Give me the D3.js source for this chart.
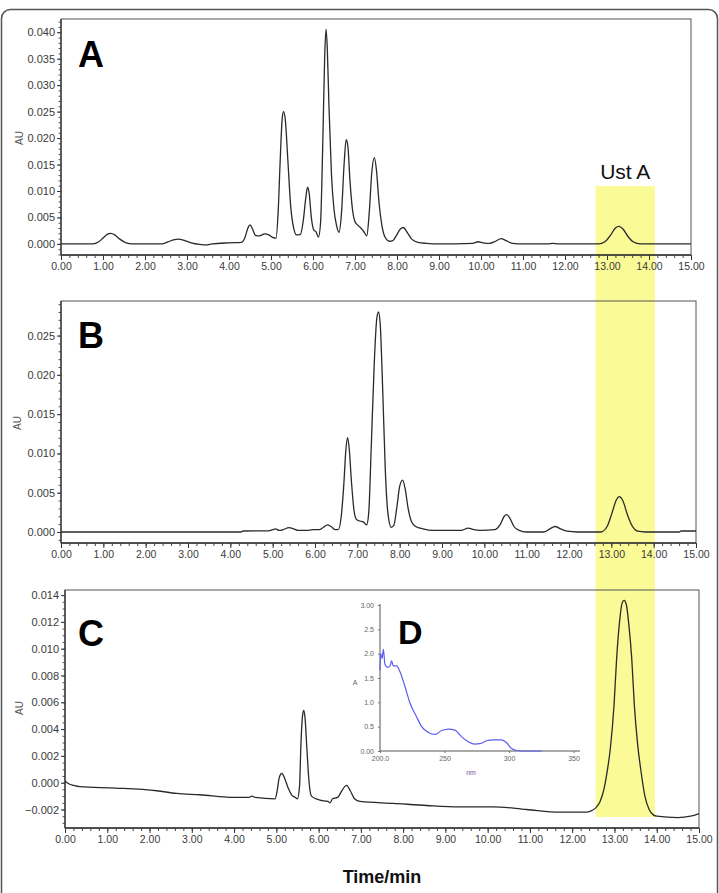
<!DOCTYPE html>
<html><head><meta charset="utf-8">
<script src="https://cdn.jsdelivr.net/npm/d3@7"></script>
<style>
body{margin:0;background:#fff}
svg{display:block}
text{font-family:Arial,"Liberation Sans",sans-serif}
</style>
</head><body>
<svg id="chart" width="719" height="893"></svg>
<script>
// ---------------- DATA ----------------
const xTicks = [0,1,2,3,4,5,6,7,8,9,10,11,12,13,14,15];
const yTicksA = [0,0.005,0.010,0.015,0.020,0.025,0.030,0.035,0.040];
const yTicksB = [0,0.005,0.010,0.015,0.020,0.025];
const yTicksC = [-0.002,0,0.002,0.004,0.006,0.008,0.010,0.012,0.014];
const panelLetters = ["A","B","C","D"];
const bandRange = [12.73, 14.14];   // min, highlighted Ust A window
const bandLabel = "Ust A";
const xTitle = "Time/min";
const yTitle = "AU";

// chromatogram A: [time(min), AU]
const chromA = [
 [0,0],[0.75,0],[0.9,0.0004],[1.0,0.0011],[1.1,0.0018],[1.18,0.0020],[1.28,0.0017],[1.4,0.0009],[1.55,0.0002],[1.7,0],
 [2.4,0],[2.55,0.0004],[2.7,0.0008],[2.8,0.0009],[2.95,0.0006],[3.1,0.0002],[3.3,-0.0001],[3.45,-0.0002],[3.6,0],
 [4.0,0.0002],[4.3,0.0003],[4.38,0.0012],[4.45,0.0030],[4.5,0.0036],[4.56,0.0028],[4.63,0.0016],[4.72,0.0015],
 [4.85,0.0019],[4.95,0.0017],[5.05,0.0012],[5.12,0.0011],[5.17,0.0060],[5.22,0.0160],[5.27,0.0240],[5.3,0.0250],
 [5.34,0.0235],[5.4,0.0160],[5.47,0.0070],[5.54,0.0030],[5.61,0.0017],[5.7,0.0018],[5.77,0.0045],[5.83,0.0088],
 [5.87,0.0107],[5.91,0.0095],[5.96,0.0050],[6.02,0.0026],[6.07,0.0023],[6.13,0.0013],[6.18,0.0040],[6.23,0.0180],
 [6.28,0.0360],[6.31,0.0406],[6.34,0.0370],[6.38,0.0260],[6.44,0.0130],[6.5,0.0065],[6.56,0.0035],[6.62,0.0022],
 [6.68,0.0060],[6.74,0.0150],[6.79,0.0197],[6.83,0.0185],[6.88,0.0120],[6.94,0.0065],[7.0,0.0042],[7.06,0.0036],
 [7.14,0.0030],[7.22,0.0022],[7.28,0.0015],[7.34,0.0060],[7.4,0.0135],[7.46,0.0163],[7.51,0.0140],[7.57,0.0080],
 [7.64,0.0035],[7.72,0.0012],[7.82,0.0005],[7.9,0.0006],[7.98,0.0015],[8.08,0.0028],[8.15,0.0031],[8.24,0.0022],
 [8.35,0.0009],[8.5,0.0003],[8.7,0.0001],[9.0,0],[9.8,0.0001],[9.93,0.0004],[10.05,0.0002],[10.2,0.0001],
 [10.35,0.0005],[10.48,0.0010],[10.6,0.0006],[10.75,0.0001],[11.0,0],[11.6,0],[11.7,0.0001],[11.85,0],
 [12.8,0],[12.95,0.0004],[13.08,0.0016],[13.2,0.0030],[13.28,0.0033],[13.38,0.0028],[13.5,0.0014],[13.62,0.0004],
 [13.8,0],[15.0,0]
];

// chromatogram B
const chromB = [
 [0,0],[4.25,0],[4.3,0.00013],[4.9,0.00015],[5.0,0.0003],[5.07,0.0004],[5.15,0.0002],[5.25,0.0003],[5.38,0.00055],
 [5.5,0.0004],[5.6,0.0002],[5.8,0.0002],[5.95,0.0003],[6.1,0.0003],[6.2,0.0006],[6.29,0.0009],[6.38,0.0007],
 [6.48,0.0003],[6.55,0.0003],[6.62,0.0020],[6.68,0.0060],[6.73,0.0105],[6.77,0.0120],[6.81,0.0105],[6.86,0.0065],
 [6.92,0.0028],[6.98,0.0016],[7.06,0.0014],[7.14,0.0013],[7.22,0.0009],[7.27,0.0025],[7.33,0.0110],[7.4,0.0215],
 [7.46,0.0272],[7.5,0.0280],[7.54,0.0265],[7.6,0.0180],[7.66,0.0080],[7.72,0.0025],[7.8,0.0006],[7.86,0.0008],
 [7.93,0.0030],[8.0,0.0058],[8.07,0.0066],[8.13,0.0055],[8.2,0.0030],[8.28,0.0013],[8.38,0.0007],[8.55,0.0004],
 [8.8,0.0002],[9.45,0.0002],[9.62,0.0005],[9.75,0.0003],[9.9,0.0002],[10.25,0.0003],[10.38,0.0010],[10.47,0.0020],
 [10.53,0.0022],[10.6,0.0018],[10.7,0.0007],[10.82,0.0002],[11.0,0],[11.4,0],[11.55,0.0004],[11.67,0.0007],
 [11.8,0.0004],[11.95,0.0001],[12.2,0],[12.75,0],[12.9,0.0007],[13.02,0.0025],[13.12,0.0041],[13.19,0.0045],
 [13.27,0.0040],[13.38,0.0022],[13.5,0.0007],[13.62,0.0001],[13.8,0],[14.6,0],[14.65,0.00013],[15.0,0.00013]
];

// chromatogram C
const chromC = [
 [0,0.00013],[0.1,-0.0001],[0.2,-0.0002],[0.35,-0.0003],[1.2,-0.0004],[2.17,-0.0006],[2.64,-0.0008],[3.19,-0.0009],
 [3.98,-0.0011],[4.35,-0.0011],[4.42,-0.0010],[4.5,-0.0011],[4.97,-0.0012],[5.02,-0.0006],[5.07,0.0004],[5.13,0.0007],
 [5.2,0.0003],[5.28,-0.0004],[5.36,-0.0009],[5.45,-0.0011],[5.5,-0.0012],[5.55,-0.0002],[5.58,0.0027],[5.62,0.0050],
 [5.65,0.0054],[5.68,0.0048],[5.72,0.0027],[5.77,0.0002],[5.83,-0.0010],[6.03,-0.0013],[6.22,-0.0014],[6.27,-0.0015],
 [6.33,-0.0012],[6.45,-0.0011],[6.55,-0.0006],[6.66,-0.0002],[6.75,-0.0006],[6.85,-0.0012],[6.98,-0.0014],
 [7.77,-0.00154],[8.56,-0.0017],[9.34,-0.0018],[10.13,-0.0018],[10.92,-0.0020],[11.71,-0.0022],[12.34,-0.0022],
 [12.45,-0.0021],[12.55,-0.0019],[12.66,-0.0014],[12.75,-0.0005],[12.82,0.0007],[12.9,0.0025],[12.99,0.0058],
 [13.05,0.0092],[13.12,0.0120],[13.18,0.0134],[13.23,0.0136],[13.28,0.0133],[13.34,0.0118],[13.41,0.0092],
 [13.47,0.0058],[13.55,0.0028],[13.63,0.0008],[13.72,-0.0010],[13.82,-0.0020],[13.92,-0.0024],[14.0,-0.0025],
 [14.5,-0.0026],[14.8,-0.0025],[15.0,-0.0023]
];

// UV spectrum D: [nm, A]
const spectrumD = [
 [200,1.66],[200.5,2.0],[201.6,1.9],[202.6,2.09],[203.9,1.77],[205.7,1.72],[207.8,1.75],[209,1.85],[210.3,1.75],
 [212.9,1.75],[215.5,1.63],[219.4,1.32],[223.3,0.98],[228.4,0.70],[232.3,0.50],[237.5,0.38],[242.6,0.34],
 [247.8,0.42],[253,0.45],[258.1,0.43],[263.3,0.29],[268.4,0.19],[273.6,0.14],[277.5,0.15],[282.6,0.21],
 [287.8,0.23],[294.3,0.23],[298.1,0.17],[302,0.05],[305.9,0.01],[309.8,0.0],[316.3,0.0],[325.3,0.0]
];
const xTicksD = [200,250,300,350];
const xTickLabelsD = ["200.0","250","300","350"];
const yTicksD = [0,0.5,1.0,1.5,2.0,2.5,3.0];
const yTickLabelsD = ["0.00","0.5","1.0","1.5","2.0","2.5","3.00"];
const xTitleD = "nm";
const yTitleD = "A";

// ---------------- DRAW ----------------
const svg = d3.select("#chart");
const fmt2 = d3.format(".2f");
const fmt3 = d3.format(".3f");

// outer rounded frame
svg.append("rect").attr("x",1.5).attr("y",9.5).attr("width",716).attr("height",905).attr("rx",9)
  .attr("fill","none").attr("stroke","#555").attr("stroke-width",1.5);

const panels = [
  {data:chromA, yTicks:yTicksA, l:61, r:691, t:19,  b:255, yd:[-0.0021,0.0425], minorY:0.001, letter:panelLetters[0], lx:78, ly:67, ax:20, ay:138},
  {data:chromB, yTicks:yTicksB, l:61, r:696, t:301, b:543, yd:[-0.0014,0.0294], minorY:0.001, letter:panelLetters[1], lx:78, ly:348, ax:18, ay:423},
  {data:chromC, yTicks:yTicksC, l:65, r:699, t:590, b:828, yd:[-0.00338,0.01438], minorY:0.0005, letter:panelLetters[2], lx:78, ly:646, ax:20, ay:708}
];

// yellow highlight band (behind everything), positioned on panel A's time scale
const xBand = d3.scaleLinear().domain([0,15]).range([panels[0].l, panels[0].r]);
svg.append("rect").attr("x",xBand(bandRange[0])).attr("y",186)
  .attr("width",xBand(bandRange[1])-xBand(bandRange[0])).attr("height",631)
  .attr("fill","#fafa96");

svg.append("text").attr("x",(xBand(bandRange[0])+xBand(bandRange[1]))/2).attr("y",179)
  .attr("text-anchor","middle").attr("font-size",21).attr("fill","#111").text(bandLabel);

function cleanAxis(g){ g.select(".domain").remove(); }

panels.forEach(p=>{
  const x = d3.scaleLinear().domain([0,15]).range([p.l,p.r]);
  const y = d3.scaleLinear().domain(p.yd).range([p.b,p.t]);
  const g = svg.append("g");

  // minor x ticks
  const minorX = d3.range(0,15.0001,0.2);
  g.append("g").attr("transform",`translate(0,${p.b})`)
    .call(d3.axisBottom(x).tickValues(minorX).tickSize(3).tickFormat(""))
    .call(cleanAxis).selectAll("line").attr("stroke","#444");
  // major x ticks
  const gx = g.append("g").attr("transform",`translate(0,${p.b})`)
    .call(d3.axisBottom(x).tickValues(xTicks).tickSize(5).tickPadding(3).tickFormat(fmt2))
    .call(cleanAxis);
  gx.selectAll("line").attr("stroke","#333");
  gx.selectAll("text").attr("font-size",10.5).attr("fill","#3a3a3a").attr("font-family","Arial, 'Liberation Sans', sans-serif");

  // minor y ticks
  const minorY = d3.range(Math.ceil(p.yd[0]/p.minorY)*p.minorY, p.yd[1], p.minorY);
  g.append("g").attr("transform",`translate(${p.l},0)`)
    .call(d3.axisLeft(y).tickValues(minorY).tickSize(2.5).tickFormat(""))
    .call(cleanAxis).selectAll("line").attr("stroke","#555");
  const gy = g.append("g").attr("transform",`translate(${p.l},0)`)
    .call(d3.axisLeft(y).tickValues(p.yTicks).tickSize(4).tickPadding(2).tickFormat(fmt3))
    .call(cleanAxis);
  gy.selectAll("line").attr("stroke","#333");
  gy.selectAll("text").attr("font-size",11).attr("fill","#3a3a3a").attr("font-family","Arial, 'Liberation Sans', sans-serif");

  // box
  g.append("rect").attr("x",p.l).attr("y",p.t).attr("width",p.r-p.l).attr("height",p.b-p.t)
    .attr("fill","none").attr("stroke","#555").attr("stroke-width",1);
  g.append("line").attr("x1",p.l).attr("x2",p.l).attr("y1",p.t).attr("y2",p.b).attr("stroke","#333").attr("stroke-width",1.3);
  g.append("line").attr("x1",p.l).attr("x2",p.r).attr("y1",p.b).attr("y2",p.b).attr("stroke","#333").attr("stroke-width",1.3);

  // trace
  const line = d3.line().x(d=>x(d[0])).y(d=>y(d[1])).curve(d3.curveMonotoneX);
  g.append("path").datum(p.data).attr("d",line).attr("fill","none")
    .attr("stroke","#2a2a2a").attr("stroke-width",1.3).attr("stroke-linejoin","round");

  // y title
  g.append("text").attr("transform",`translate(${p.ax},${p.ay}) rotate(-90)`).attr("text-anchor","middle")
    .attr("dominant-baseline","middle").attr("font-size",10).attr("fill","#555").text(yTitle);

  // panel letter
  g.append("text").attr("x",p.lx).attr("y",p.ly).attr("font-size",36).attr("font-weight","bold")
    .attr("fill","#000").text(p.letter);
});

// x title
svg.append("text").attr("x",382).attr("y",883).attr("text-anchor","middle").attr("font-size",18)
  .attr("font-weight","bold").attr("fill","#111").text(xTitle);

// ---------- inset D ----------
{
  const x = d3.scaleLinear().domain([200,350]).range([380,573.5]);
  const y = d3.scaleLinear().domain([0,3]).range([751,605]);
  const g = svg.append("g");
  g.append("line").attr("x1",380).attr("x2",580).attr("y1",751).attr("y2",751).attr("stroke","#555").attr("stroke-width",1);
  g.append("line").attr("x1",380).attr("x2",380).attr("y1",604).attr("y2",751).attr("stroke","#555").attr("stroke-width",1);
  const gx = g.append("g").attr("transform","translate(0,751)")
    .call(d3.axisBottom(x).tickValues(xTicksD).tickSize(2).tickPadding(3).tickFormat((d,i)=>xTickLabelsD[i]))
    .call(cleanAxis);
  gx.selectAll("line").attr("stroke","#777");
  gx.selectAll("text").attr("font-size",7).attr("fill","#666").attr("font-family","Arial, 'Liberation Sans', sans-serif");
  const gy = g.append("g").attr("transform","translate(380,0)")
    .call(d3.axisLeft(y).tickValues(yTicksD).tickSize(2).tickPadding(4).tickFormat((d,i)=>yTickLabelsD[i]))
    .call(cleanAxis);
  gy.selectAll("line").attr("stroke","#777");
  gy.selectAll("text").attr("font-size",7).attr("fill","#666").attr("font-family","Arial, 'Liberation Sans', sans-serif");
  g.append("text").attr("x",471).attr("y",775).attr("text-anchor","middle").attr("font-size",7)
    .attr("fill","#7a4f9f").text(xTitleD);
  g.append("text").attr("x",355).attr("y",685).attr("text-anchor","middle").attr("font-size",7)
    .attr("fill","#666").text(yTitleD);
  const line = d3.line().x(d=>x(d[0])).y(d=>y(d[1])).curve(d3.curveMonotoneX);
  g.append("path").datum(spectrumD).attr("d",line).attr("fill","none")
    .attr("stroke","#5c5cf0").attr("stroke-width",1.2);
  g.append("text").attr("x",398).attr("y",644).attr("font-size",34).attr("font-weight","bold")
    .attr("fill","#000").text(panelLetters[3]);
}
</script>
</body></html>
